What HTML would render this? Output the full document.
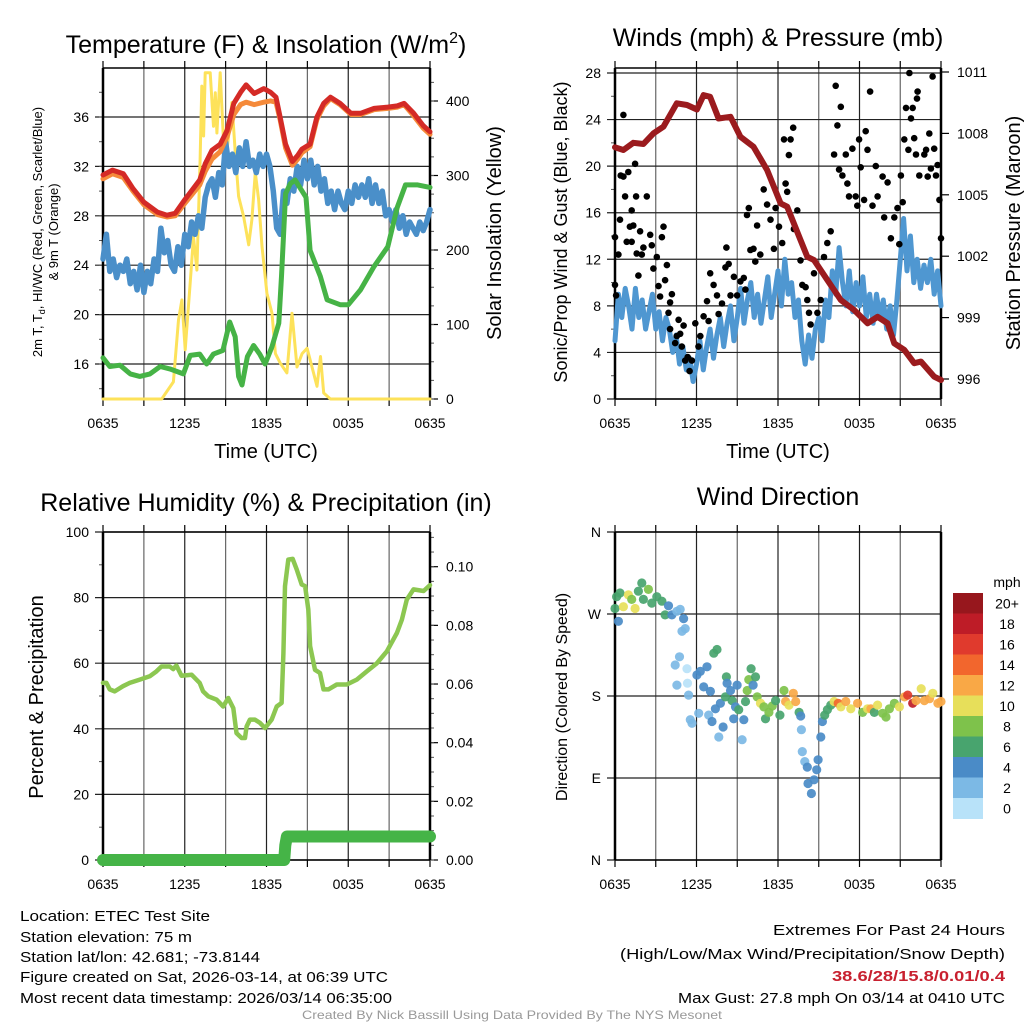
<!DOCTYPE html>
<html><head><meta charset="utf-8"><style>
html,body{margin:0;padding:0;background:#fff;}
svg{display:block;font-family:"Liberation Sans",Arial,sans-serif;}
</style></head><body>
<svg id="chart" width="1024" height="1024" viewBox="0 0 1024 1024" xmlns="http://www.w3.org/2000/svg">
<rect x="0" y="0" width="1024" height="1024" fill="#fff"/>
<g id="layer"></g>
<text x="266" y="53" font-size="25" text-anchor="middle">Temperature (F) &amp; Insolation (W/m<tspan font-size="16" dy="-10">2</tspan><tspan dy="10">)</tspan></text>
<text x="778" y="46" font-size="25" text-anchor="middle">Winds (mph) &amp; Pressure (mb)</text>
<text x="266" y="511" font-size="25" text-anchor="middle">Relative Humidity (%) &amp; Precipitation (in)</text>
<text x="778" y="505" font-size="25" text-anchor="middle">Wind Direction</text>
<text font-size="13" text-anchor="middle" transform="translate(42,232) rotate(-90)">2m T, T<tspan font-size="9" dy="3">d</tspan><tspan dy="-3">, HI/WC (Red, Green, Scarlet/Blue)</tspan></text>
<text font-size="13" text-anchor="middle" transform="translate(58,232) rotate(-90)">&amp; 9m T (Orange)</text>
<text font-size="20" text-anchor="middle" transform="translate(501,233) rotate(-90)">Solar Insolation (Yellow)</text>
<text font-size="18" text-anchor="middle" transform="translate(567,232) rotate(-90)">Sonic/Prop Wind &amp; Gust (Blue, Black)</text>
<text font-size="20" text-anchor="middle" transform="translate(1020,233) rotate(-90)">Station Pressure (Maroon)</text>
<text font-size="20" text-anchor="middle" transform="translate(43,697) rotate(-90)">Percent &amp; Precipitation</text>
<text font-size="16" text-anchor="middle" transform="translate(567,697) rotate(-90)">Direction (Colored By Speed)</text>
<text x="266" y="458" font-size="20" text-anchor="middle">Time (UTC)</text>
<text x="778" y="458" font-size="20" text-anchor="middle">Time (UTC)</text>
<g font-size="15">
<text x="20" y="921" textLength="190" lengthAdjust="spacingAndGlyphs">Location: ETEC Test Site</text>
<text x="20" y="942" textLength="172" lengthAdjust="spacingAndGlyphs">Station elevation: 75 m</text>
<text x="20" y="962" textLength="240" lengthAdjust="spacingAndGlyphs">Station lat/lon: 42.681; -73.8144</text>
<text x="20" y="982" textLength="368" lengthAdjust="spacingAndGlyphs">Figure created on Sat, 2026-03-14, at 06:39 UTC</text>
<text x="20" y="1003" textLength="372" lengthAdjust="spacingAndGlyphs">Most recent data timestamp: 2026/03/14 06:35:00</text>
</g>
<g font-size="15" text-anchor="end">
<text x="1005" y="935" textLength="232" lengthAdjust="spacingAndGlyphs">Extremes For Past 24 Hours</text>
<text x="1005" y="959" textLength="385" lengthAdjust="spacingAndGlyphs">(High/Low/Max Wind/Precipitation/Snow Depth)</text>
<text x="1005" y="981" fill="#c8202f" font-weight="bold" textLength="173" lengthAdjust="spacingAndGlyphs">38.6/28/15.8/0.01/0.4</text>
<text x="1005" y="1003" textLength="327" lengthAdjust="spacingAndGlyphs">Max Gust: 27.8 mph On 03/14 at 0410 UTC</text>
</g>
<text x="512" y="1019" font-size="12" fill="#999" text-anchor="middle" textLength="420" lengthAdjust="spacingAndGlyphs">Created By Nick Bassill Using Data Provided By The NYS Mesonet</text>
</svg>
<script>
// ---------- DATA ----------
const xTickLabels = ["0635","1235","1835","0035","0635"];
const tempTicks = [16,20,24,28,32,36];
const solarTicks = [0,100,200,300,400];
const windTicks = [0,4,8,12,16,20,24,28];
const pressTicks = [996,999,1002,1005,1008,1011];
const rhTicks = [0,20,40,60,80,100];
const precipTicks = [0,0.02,0.04,0.06,0.08,0.10];
const precipTickLabels = ["0.00","0.02","0.04","0.06","0.08","0.10"];
const dirTicks = [0,90,180,270,360];
const dirTickLabels = ["N","E","S","W","N"];
const speedBins = ["0","2","4","6","8","10","12","14","16","18","20+"];
const speedColors = ["#b8e2f9","#7cb9e5","#4a8bc7","#48a46e","#7ec24b","#e7df5a","#f9a846","#f2662d","#e03a2d","#be1c27","#97171d"];

const redHours = [0,0.7,1.5,2.2,3,4,4.7,5.3,6,7.1,7.5,8,8.6,9.1,9.6,10.1,10.5,11.1,11.8,12.3,12.7,13,13.4,13.9,14.3,14.6,15.2,15.7,16.2,16.7,17.4,18.2,18.9,19.9,20.9,21.6,22.1,22.8,23.5,24];
const redTemp  = [31.3,31.7,31.4,30.2,29.1,28.3,28.05,28.2,29.3,30.9,32.2,33.3,33.8,34.9,37.1,38.0,38.6,37.9,38.3,38.0,37.6,36,33.8,32.4,32.9,33.4,33.8,36,37.1,37.6,37.1,36.3,36.3,36.7,36.8,36.9,37.1,36.3,35.3,34.8];
const orangeTemp=[31.0,31.4,31.1,30.0,28.9,28.1,27.9,28.0,29.0,30.5,31.6,32.6,33.2,34.4,36.2,37.0,37.2,37.0,37.2,37.3,37.2,35.8,33.5,32.1,32.6,33.1,33.6,35.8,36.9,37.5,37.0,36.2,36.2,36.6,36.7,36.8,37.0,36.1,35.1,34.6];

const greenHours=[0,0.5,1.25,2,2.7,3.45,4.2,4.9,5.9,6.4,7.1,7.6,8.1,8.8,9.3,9.7,9.95,10.2,10.6,11.05,11.5,11.9,12.4,12.9,13.1,13.4,13.75,14.1,14.9,15.2,15.95,16.45,17.4,18.0,18.9,19.9,20.9,21.6,22.2,23.1,24];
const greenTemp=[16.5,15.8,15.9,15.2,15.0,15.2,15.8,15.6,15.2,16.7,16.8,16,16.8,17.1,19.4,18.2,15,14.3,16.6,17.5,16.8,16,17.4,19.3,23.1,29.8,30.6,30.9,29.5,25.2,23.1,21.2,20.8,20.8,22.0,23.9,25.5,28.7,30.5,30.5,30.3];

const blueTemp=[24.5,26.5,23.5,24.5, 23,24,23.5,24.5, 22.5,23.5,22,24, 21.8,23.5,22.5,24.5, 23.5,27,25,26, 24,23.5,25.5,24, 26.5,25.5,27.5,26.5, 28,27,29.5,30.5, 31,29.5,31.5,30.5, 34,32,33,31.5, 33.5,32,34,32, 32.5,31.5,33,32, 33,32,30,27, 26.5,30,29,31, 30,32,30.5,32.5, 31,32.5,30.5,32, 30,31,29,30, 28.5,30,29,28.5, 30,29,30.5,29.5, 30.5,29.5,31,29, 30.5,29,30,28, 28.5,27.5,28.5,27, 28,26.5,27.5,27, 26.5,27.5,26.8,27.5, 28.5];

const solarHours=[0,4.31,5.17,5.54,5.79,6.03,6.4,6.64,6.89,7.13,7.25,7.38,7.5,7.87,8.11,8.24,8.36,8.6,8.85,8.97,9.22,9.46,9.71,9.95,10.32,10.69,10.93,11.18,11.42,11.67,12.03,12.4,12.65,13.01,13.5,13.87,14.24,14.61,14.98,15.34,15.71,15.96,16.2,16.69,24];
const solarVals =[0,0,23,106,133,66,156,218,173,321,420,353,438,438,366,411,357,438,344,313,353,398,330,272,245,207,241,304,268,205,142,115,61,48,35,115,43,61,68,43,17,57,8,0,0];

const windHours=[];for(let i=0;i<=96;i++){windHours.push(i/4);}
const tempBlueHours=windHours;
const windSpeed=[5,9,7,9.5, 8,6,9.5,7, 8.5,6,7.5,9, 6,7.5,5,7, 6,4,5.5,3, 4.5,2.5,3.5,1.5, 3,5,2.5,4.5, 6,3.5,5.5,7, 4.5,6.5,8,5, 7,9.5,6.5,8.5, 10,7,9,6.5, 8.5,10.5,7,9, 11,8,12,9, 10,7,8.5,5, 3,5.5,3.5,6, 7,5,8.5,7, 11,9,13,10, 8,11,7.5,10, 8,10.5,7,9, 6.5,9,7,8.5, 6,8,5.5,8.5, 12,15.5,11,14, 10,12,9.5,11.5, 10,12,9,11, 8];

const gustHours=[0,0,0.08,0.25,0.37,0.42,0.62,0.62,0.74,0.86,0.98,1.1,1.23,1.23,1.35,1.48,1.55,1.6,1.72,1.85,1.97,2.09,2.34,2.59,2.71,2.83,3.08,3.2,3.32,3.45,3.57,3.69,3.82,3.94,4.06,4.19,4.06,4.43,4.55,4.68,4.8,4.92,5.05,5.17,5.35,5.49,5.66,5.91,6.15,6.28,6.52,6.77,6.89,7.01,7.26,7.51,7.63,7.88,8.13,8.2,8.37,8.5,8.75,8.99,9.23,9.48,9.6,9.72,9.85,9.97,10.2,10.33,10.46,10.7,10.95,11.2,11.45,11.7,11.82,12.07,12.31,12.44,12.56,12.68,12.8,12.93,13.12,13.17,13.42,13.66,13.79,14.03,14.16,14.28,14.4,14.65,14.9,15.14,15.39,15.63,15.88,16.13,16.25,16.37,16.5,16.62,16.74,16.99,17.11,17.23,17.48,17.72,17.84,17.97,18.09,18.34,18.46,18.59,18.78,18.96,19.2,19.33,19.7,19.82,20.07,20.31,20.56,20.8,20.93,21.05,21.18,21.3,21.42,21.6,21.67,21.79,21.92,22.03,22.16,22.23,22.28,22.4,22.77,22.9,23.02,23.14,23.26,23.38,23.5,23.63,23.75,23.88,24];
const gustSpeed=[13.9,9.8,8.9,12.4,15.4,19.2,24.4,19.1,17.4,13.5,19.5,14.8,16.2,13.5,14.9,20.2,17.4,12.5,10.6,14.4,12.4,13.0,17.4,14.1,13.2,11.2,12.2,9.7,8.8,13.9,14.8,10.2,11.5,7.4,8.3,9.0,6.0,4.8,5.4,6.8,5.6,4.5,6.3,3.3,3.6,2.4,3.3,6.5,4.5,5.4,7.1,8.4,6.7,10.8,9.8,8.9,7.3,8.2,11.3,13.0,11.6,8.9,10.5,8.9,10.1,10.4,9.4,15.8,16.4,12.8,12.9,11.8,14.9,12.4,18.0,16.7,15.4,12.9,16.4,14.8,13.4,22.3,18.5,17.8,20.95,22.3,23.3,14.6,16.2,11.9,9.8,9.6,8.5,7.4,6.4,10.8,7.4,8.5,12.2,13.4,14.4,21.0,26.9,23.5,19.7,25.1,19.2,21.0,18.5,17.4,21.5,17.4,16.6,22.3,19.9,17.1,23.0,21.4,26.4,16.6,20.0,17.4,19.1,15.6,18.6,13.8,15.6,16.4,13.3,19.2,16.9,22.3,25.0,21.4,28.0,24.1,25.0,22.4,21.0,25.8,26.4,19.2,21.0,21.4,19.1,22.8,19.8,27.7,21.5,19.2,20.1,17.1,13.8];

const pressHours=[0,0.62,1.35,2.09,2.83,3.57,4.55,5.3,6.03,6.52,7.0,7.63,8.5,9.23,10.2,11.2,12.19,12.68,13.66,14.16,14.65,15.63,16.62,17.6,18.59,19.33,20.07,20.56,21.3,22.03,22.53,23.5,24];
const pressVals=[1007.32,1007.19,1007.54,1007.48,1008.0,1008.33,1009.47,1009.39,1009.17,1009.87,1009.79,1008.73,1008.81,1007.84,1007.35,1006.21,1004.58,1004.42,1002.79,1001.97,1001.81,1000.84,999.86,999.37,998.72,999.04,998.72,997.74,997.42,996.77,996.85,996.11,995.95];

const rhHours=[0,0.25,0.49,0.86,1.47,1.96,2.7,3.43,3.92,4.29,4.9,5.15,5.39,5.76,6.5,7.1,7.35,7.72,8.33,8.82,9.19,9.56,9.8,10.17,10.42,10.54,10.78,11.15,11.52,11.89,12.38,12.75,13.11,13.24,13.36,13.6,13.92,14.22,14.58,14.83,15.07,15.2,15.56,15.93,16.18,16.54,17.16,17.89,18.63,19.36,20.1,20.83,21.57,21.94,22.3,22.79,23.53,24];
const rhVals=[54,54,52,51.4,53,54,55,56,57.5,59,59,58.2,59.3,56.2,56.5,54,51.4,49.9,48.9,46.8,49.4,46.3,38.7,37.2,37.2,40.7,42.8,42.8,41.8,40.2,42.8,46.8,47.9,63,83.5,91.6,91.8,88.6,84,83.5,76.4,65.2,58,57,52,52,53.5,53.5,55,57.5,60,63.6,69.2,73.3,79.4,82.5,82,83.8];
const precipHours=[0,13.3,13.38,13.5,24];
const precipVals=[0,0,0.005,0.008,0.008];

const dirHours=[0,0.12,0.25,0.37,0.62,0.99,1.23,1.48,1.72,1.97,2.09,2.46,2.71,3.08,3.45,3.69,3.94,4.19,4.56,4.8,5.05,5.17,4.93,4.43,4.75,4.56,5.3,5.34,5.42,6.03,6.16,6.28,5.54,5.67,6.53,6.77,7.02,6.9,7.14,7.27,7.51,7.39,7.64,7.76,7.96,8.2,8.25,8.13,8.5,8.62,8.74,8.87,8.99,9.11,9.36,9.48,9.61,9.73,9.85,10.02,10.17,10.34,10.47,10.71,10.96,11.08,11.33,11.58,11.82,12.14,12.44,12.56,12.81,13.13,13.3,13.55,13.67,13.72,13.79,13.97,14.16,14.21,14.46,14.66,14.85,14.95,15.15,15.27,15.44,15.64,15.89,16.13,16.43,16.63,16.99,17.36,17.86,18.23,18.6,18.84,19.09,19.33,19.7,19.95,20.2,20.57,20.94,21.31,21.55,21.92,22.17,22.54,22.78,23.15,23.4,23.77,24];
const dirVals=[276,289,262,293,278,291,286,276,295,304,286,297,282,289,284,269,279,269,273,275,265,254,251,214,223,192,210,194,181,203,161,207,154,150,190,212,185,159,152,227,231,166,135,172,146,201,194,179,186,175,155,168,192,165,132,154,174,186,198,210,192,201,179,172,168,155,162,169,175,159,186,174,170,183,174,162,158,143,119,108,102,84,73,88,99,110,135,152,159,165,170,174,172,168,174,166,172,162,166,166,162,170,161,157,166,172,168,179,181,172,175,188,175,177,183,172,174];
const dirSpeed=[7,6,4,6,10,10,8,10,6,6,6,8,6,6,6,6,4,4,2,2,4,2,2,2,2,2,0,0,2,4,2,4,2,2,4,4,4,2,4,6,6,4,2,4,4,6,4,6,4,6,4,4,4,6,2,4,6,8,8,6,4,6,8,10,8,6,8,8,6,6,8,12,10,12,12,6,4,2,2,2,4,4,4,4,4,4,4,4,6,6,6,10,14,10,12,10,12,8,10,12,6,10,8,8,8,8,10,12,16,18,12,10,12,12,10,12,12];

// ---------- RENDER ----------
const NS="http://www.w3.org/2000/svg";
const layer=document.getElementById('layer');
function mk(tag,attrs,parent){const e=document.createElementNS(NS,tag);for(const k in attrs)e.setAttribute(k,attrs[k]);(parent||layer).appendChild(e);return e;}
function lin(d0,d1,r0,r1){return v=>r0+(v-d0)*(r1-r0)/(d1-d0);}

const P1={x0:103,x1:430,y0:68,y1:399};
const P2={x0:615,x1:941,y0:68,y1:399};
const P3={x0:103,x1:430,y0:532,y1:860};
const P4={x0:615,x1:941,y0:532,y1:860};

function frame(P,name,yTicks,ySc,yLab,yMinor,rTicks,rSc,rLab,rMinor,xLabels){
  const g=mk('g',{});
  
  
  const xs=lin(0,24,P.x0,P.x1);
  for(let h=0;h<=24;h+=3){
    const x=xs(h);
    const l=mk('line',{x1:x,x2:x,y1:P.y0,y2:P.y1,stroke:(h%6==0)?'#222':'#666','stroke-width':1.2},g);
    
    
    mk('line',{x1:x,x2:x,y1:P.y1,y2:P.y1+7,stroke:'#000','stroke-width':1.2},g);
    mk('line',{x1:x,x2:x,y1:P.y0,y2:P.y0-7,stroke:'#000','stroke-width':1.2},g);
  }
  if(xLabels){xLabels.forEach((t,i)=>{const tx=mk('text',{x:xs(i*6),y:P.y1+29,'font-size':14,'text-anchor':'middle'},g);tx.textContent=t;
    
    });}
  yTicks.forEach((v,i)=>{const y=ySc(v);
    const l=mk('line',{x1:P.x0-8,x2:P.x1,y1:y,y2:y,stroke:'#222','stroke-width':1.2},g);
    
    
    const tx=mk('text',{x:P.x0-14,y:y+5,'font-size':14,'text-anchor':'end'},g);tx.textContent=yLab[i];
    
    });
  (yMinor||[]).forEach(v=>{const y=ySc(v);mk('line',{x1:P.x0-4,x2:P.x0,y1:y,y2:y,stroke:'#555','stroke-width':1},g);});
  if(rTicks){rTicks.forEach((v,i)=>{const y=rSc(v);
    mk('line',{x1:P.x1,x2:P.x1+8,y1:y,y2:y,stroke:'#000','stroke-width':1.2},g);
    const tx=mk('text',{x:P.x1+16,y:y+5,'font-size':14},g);tx.textContent=rLab[i];
    
    });
    (rMinor||[]).forEach(v=>{const y=rSc(v);mk('line',{x1:P.x1,x2:P.x1+4,y1:y,y2:y,stroke:'#555','stroke-width':1},g);});}
  mk('line',{x1:P.x0,x2:P.x0,y1:P.y0,y2:P.y1,stroke:'#000','stroke-width':2.5},g);
  mk('line',{x1:P.x1,x2:P.x1,y1:P.y0,y2:P.y1,stroke:'#000','stroke-width':2.5},g);
  mk('line',{x1:P.x0,x2:P.x1,y1:P.y1,y2:P.y1,stroke:'#000','stroke-width':1.5},g);
  mk('line',{x1:P.x0,x2:P.x1,y1:P.y0,y2:P.y0,stroke:'#000','stroke-width':1.5},g);
  return xs;
}
function line(xs,ys,hs,vs,color,w,name,P){
  const pts=hs.map((h,i)=>xs(h).toFixed(1)+','+ys(vs[i]).toFixed(1)).join(' ');
  const cid='clip'+name;
  const cp=mk('clipPath',{id:cid});mk('rect',{x:P.x0-6,y:P.y0,width:P.x1-P.x0+12,height:P.y1-P.y0+6},cp);
  const pl=mk('polyline',{points:pts,fill:'none',stroke:color,'stroke-width':w,'stroke-linejoin':'round','stroke-linecap':'round','clip-path':'url(#'+cid+')'});
  
  
  return pl;
}
function range(a,b,s){const r=[];for(let v=a;v<=b+1e-9;v+=s)r.push(+v.toFixed(4));return r;}

// Panel 1
const t1=lin(16,36,364,117), s1=lin(0,400,399,101);
const x1=frame(P1,'temperature-panel-axes',tempTicks,t1,tempTicks.map(String),range(14,38,2),solarTicks,s1,solarTicks.map(String),range(0,425,25),xTickLabels);
line(x1,s1,solarHours,solarVals,'#fde25a',3,'solar-insolation-line',P1);
line(x1,t1,tempBlueHours,blueTemp,'#4a8fc9',5.5,'wind-chill-line',P1);
line(x1,t1,greenHours,greenTemp,'#46b346',5,'dewpoint-line',P1);
line(x1,t1,redHours,orangeTemp,'#f58a3a',5,'temp-9m-line',P1);
line(x1,t1,redHours,redTemp,'#d42a26',5,'temp-2m-line',P1);

// Panel 2
const w2=lin(0,28,399,73), p2=lin(996,1011,379,72);
const x2=frame(P2,'winds-panel-axes',windTicks,w2,windTicks.map(String),range(2,26,4),pressTicks,p2,pressTicks.map(String),null,xTickLabels);
line(x2,w2,windHours,windSpeed,'#4f97d1',5,'sustained-wind-line',P2);
gustHours.forEach((h,i)=>{const c=mk('circle',{cx:x2(h).toFixed(1),cy:w2(gustSpeed[i]).toFixed(1),r:3.3,fill:'#000'});
  
  });
line(x2,p2,pressHours,pressVals,'#9b1b1e',6,'pressure-line',P2);

// Panel 3
const r3=lin(0,100,860,532), q3=lin(0,0.1,860,566.7);
const x3=frame(P3,'humidity-panel-axes',rhTicks,r3,rhTicks.map(String),range(10,90,20),precipTicks,q3,precipTickLabels,range(0,0.11,0.005),xTickLabels);
line(x3,r3,rhHours,rhVals,'#8cc751',4.5,'relative-humidity-line',{x0:P3.x0,x1:P3.x1,y0:P3.y0-10,y1:P3.y1});
const pl=line(x3,q3,precipHours,precipVals,'#45b447',12,'precipitation-line',{x0:P3.x0-6,x1:P3.x1+6,y0:P3.y0,y1:P3.y1+6});
pl.removeAttribute('clip-path');

// Panel 4
const d4=lin(0,360,860,532);
const x4=frame(P4,'wind-direction-panel-axes',dirTicks,d4,dirTickLabels,null,null,null,null,null,xTickLabels);
dirHours.forEach((h,i)=>{const b=Math.min(10,Math.floor(dirSpeed[i]/2));
  const c=mk('circle',{cx:x4(h).toFixed(1),cy:d4(dirVals[i]).toFixed(1),r:4.6,fill:speedColors[b],'fill-opacity':0.92});
  
  });

// Colorbar
const cb=mk('g',{});


const bh=20.5, btop=593;
speedBins.forEach((lab,i)=>{const k=speedBins.length-1-i;const y=btop+i*bh;
  mk('rect',{x:953,y:y,width:30,height:bh+0.5,fill:speedColors[k]},cb);
  const t=mk('text',{x:1007,y:y+bh/2+5,'font-size':14,'text-anchor':'middle'},cb);t.textContent=speedBins[k];
  
  });
const mt=mk('text',{x:1007,y:587,'font-size':14,'text-anchor':'middle'},cb);mt.textContent='mph';


</script>
</body></html>
